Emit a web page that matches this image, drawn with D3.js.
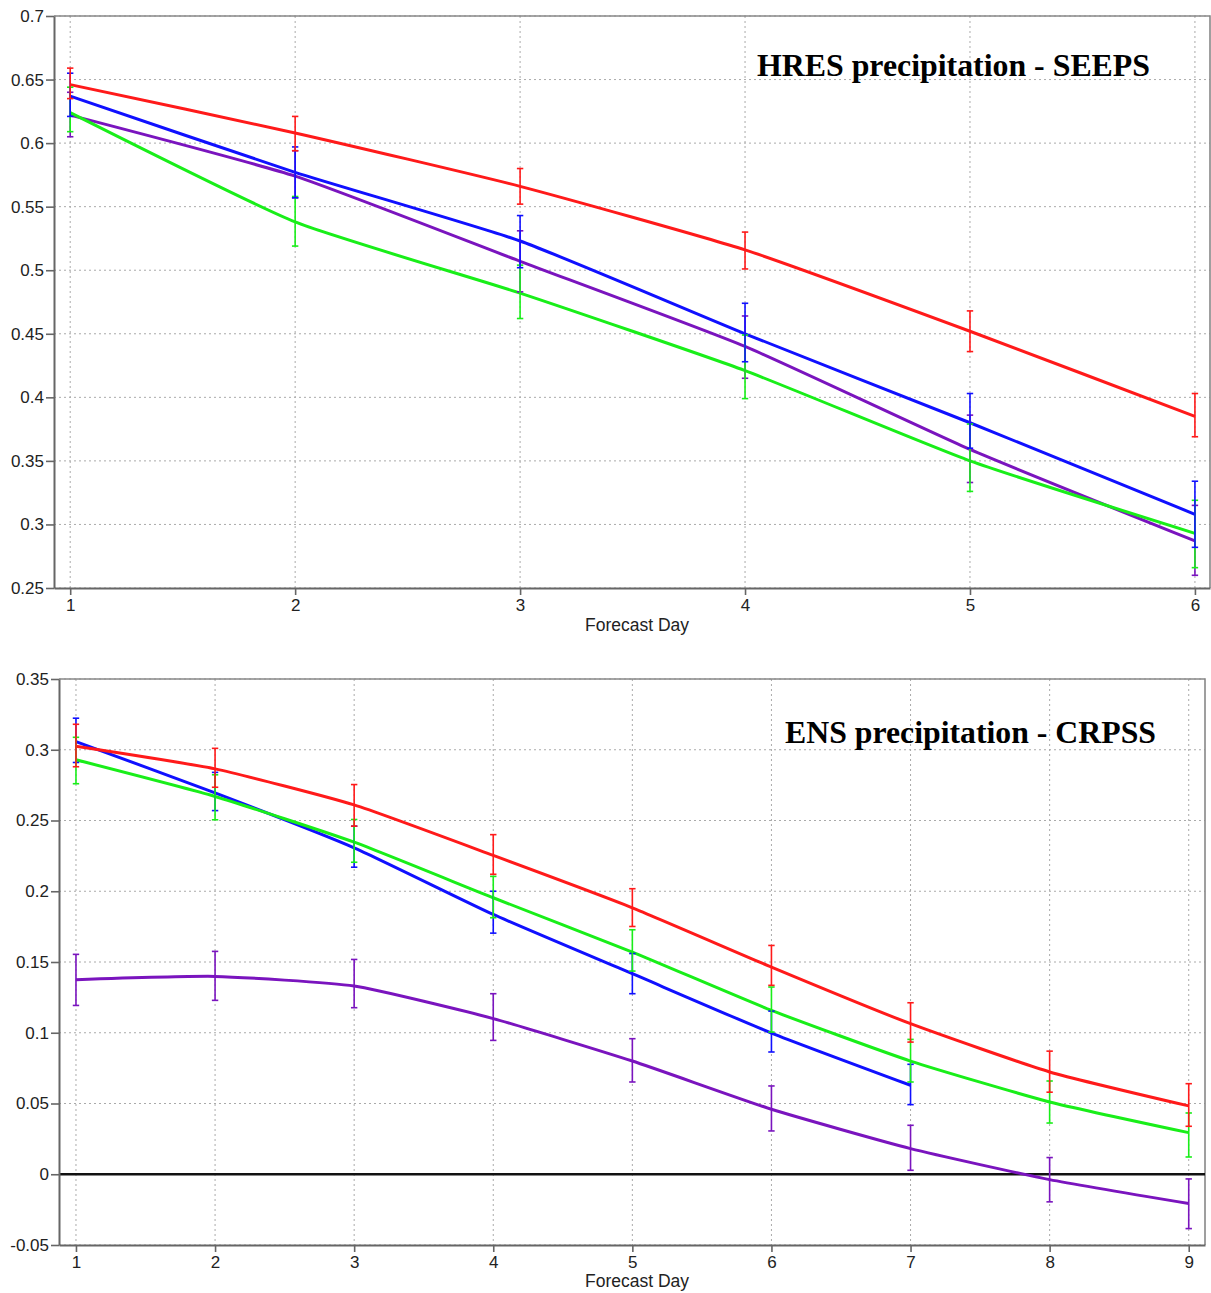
<!DOCTYPE html>
<html>
<head>
<meta charset="utf-8">
<script src="https://cdn.jsdelivr.net/npm/d3@7/dist/d3.min.js"></script>
<style>
  html, body { margin: 0; padding: 0; background: #fff; }
  svg { display: block; }
  .tick text { font-family: "Liberation Sans", Arial, sans-serif; font-size: 17px; fill: #222; }
</style>
</head>
<body>
<svg id="chart" width="1211" height="1293"></svg>
<script>
// ---- HRES precipitation, SEEPS by forecast day ----
const seepsDays = [1, 2, 3, 4, 5, 6];
const seepsTicks = [0.25, 0.3, 0.35, 0.4, 0.45, 0.5, 0.55, 0.6, 0.65, 0.7];

const seepsRed      = [0.646, 0.608, 0.566, 0.516, 0.452, 0.385];
const seepsRedHi    = [0.659, 0.621, 0.580, 0.530, 0.468, 0.403];
const seepsRedLo    = [0.635, 0.594, 0.552, 0.501, 0.436, 0.369];

const seepsBlue     = [0.637, 0.577, 0.523, 0.450, 0.380, 0.308];
const seepsBlueHi   = [0.655, 0.597, 0.543, 0.474, 0.403, 0.334];
const seepsBlueLo   = [0.621, 0.557, 0.502, 0.428, 0.360, 0.282];

const seepsPurple   = [0.622, 0.574, 0.507, 0.440, 0.359, 0.287];
const seepsPurpleHi = [0.640, 0.594, 0.531, 0.464, 0.386, 0.315];
const seepsPurpleLo = [0.605, 0.557, 0.483, 0.415, 0.333, 0.260];

const seepsGreen    = [0.624, 0.538, 0.482, 0.421, 0.350, 0.293];
const seepsGreenHi  = [0.644, 0.558, 0.504, 0.449, 0.379, 0.319];
const seepsGreenLo  = [0.609, 0.519, 0.462, 0.399, 0.326, 0.266];

// ---- ENS precipitation, CRPSS by forecast day ----
const crpssDays = [1, 2, 3, 4, 5, 6, 7, 8, 9];
const crpssTicks = [-0.05, 0, 0.05, 0.1, 0.15, 0.2, 0.25, 0.3, 0.35];

const crpssRed      = [0.3025, 0.2865, 0.261, 0.2253, 0.1883, 0.1464, 0.1064, 0.0723, 0.0483];
const crpssRedHi    = [0.318, 0.301, 0.2754, 0.240, 0.2018, 0.1617, 0.1212, 0.087, 0.064];
const crpssRedLo    = [0.288, 0.2735, 0.246, 0.212, 0.1751, 0.1335, 0.0934, 0.058, 0.0339];

const crpssBlue     = [0.3058, 0.2695, 0.2307, 0.1836, 0.1417, 0.0998, 0.0629];
const crpssBlueHi   = [0.3223, 0.284, 0.246, 0.200, 0.156, 0.1153, 0.0777];
const crpssBlueLo   = [0.291, 0.257, 0.217, 0.1704, 0.1276, 0.0864, 0.0492];

const crpssGreen    = [0.2929, 0.267, 0.2347, 0.1954, 0.157, 0.1158, 0.080, 0.0511, 0.0294];
const crpssGreenHi  = [0.3088, 0.2823, 0.2507, 0.2105, 0.1728, 0.1323, 0.0953, 0.0659, 0.0433];
const crpssGreenLo  = [0.276, 0.2505, 0.2205, 0.1813, 0.1436, 0.1005, 0.0652, 0.0362, 0.0122];

const crpssPurple   = [0.1375, 0.1398, 0.133, 0.110, 0.080, 0.0459, 0.0181, -0.0038, -0.0207];
const crpssPurpleHi = [0.1554, 0.1575, 0.1518, 0.1276, 0.0958, 0.0624, 0.0346, 0.0118, -0.0033];
const crpssPurpleLo = [0.1193, 0.1229, 0.1177, 0.0946, 0.0652, 0.0306, 0.0028, -0.0195, -0.0384];

const COLORS = { red: "#ff1a1a", blue: "#1010ff", green: "#19ee19", purple: "#7a14be" };

const svg = d3.select("#chart");

function series(color, days, val, hi, lo) {
  return { color, pts: val.map((v, i) => ({ d: days[i], v, hi: hi[i], lo: lo[i] })) };
}

function drawPanel(cfg) {
  const g = svg.append("g");
  const x = d3.scaleLinear().domain(cfg.xDomain).range([cfg.left, cfg.right]);
  const y = d3.scaleLinear().domain(cfg.yDomain).range([cfg.bottom, cfg.top]);

  // dotted grid
  g.append("g").selectAll("line.h").data(cfg.yTicks).join("line")
    .attr("x1", cfg.left).attr("x2", cfg.right)
    .attr("y1", d => y(d)).attr("y2", d => y(d))
    .attr("stroke", "#aaa").attr("stroke-width", 1).attr("stroke-dasharray", "2,3");
  g.append("g").selectAll("line.v").data(cfg.days).join("line")
    .attr("x1", d => x(d)).attr("x2", d => x(d))
    .attr("y1", cfg.top).attr("y2", cfg.bottom)
    .attr("stroke", "#aaa").attr("stroke-width", 1).attr("stroke-dasharray", "2,3");

  // frame top/right
  g.append("path")
    .attr("d", `M${cfg.left},${cfg.top}H${cfg.right}V${cfg.bottom}`)
    .attr("fill", "none").attr("stroke", "#888").attr("stroke-width", 1.6);

  if (cfg.zeroLine) {
    g.append("line")
      .attr("x1", cfg.left).attr("x2", cfg.right)
      .attr("y1", y(0)).attr("y2", y(0))
      .attr("stroke", "#111").attr("stroke-width", 2.5);
  }

  // axes
  const fmt = v => String(+v.toFixed(2));
  const ax = g.append("g").attr("transform", `translate(${cfg.left},0)`)
    .call(d3.axisLeft(y).tickValues(cfg.yTicks).tickFormat(fmt).tickSize(8).tickSizeOuter(0).tickPadding(2));
  const bx = g.append("g").attr("transform", `translate(0,${cfg.bottom})`)
    .call(d3.axisBottom(x).tickValues(cfg.days).tickFormat(d3.format("d")).tickSize(7).tickSizeOuter(0).tickPadding(4));
  [ax, bx].forEach(a => {
    a.select(".domain").attr("stroke", "#666").attr("stroke-width", 2);
    a.selectAll(".tick line").attr("stroke", "#666").attr("stroke-width", 1.6);
  });

  // x-axis title
  g.append("text")
    .attr("x", (cfg.left + cfg.right) / 2 + 5).attr("y", cfg.bottom + cfg.xTitleOffset)
    .attr("text-anchor", "middle")
    .attr("font-family", "Liberation Sans, Arial, sans-serif").attr("font-size", 17.5).attr("fill", "#222")
    .text("Forecast Day");

  // lines, lightly smoothed through the daily points
  const line = d3.line().x(p => x(p.d)).y(p => y(p.v)).curve(d3.curveCardinal.tension(0.5));
  cfg.series.forEach(s => {
    g.append("path").datum(s.pts).attr("d", line)
      .attr("fill", "none").attr("stroke", COLORS[s.color]).attr("stroke-width", 3)
      .attr("stroke-linejoin", "round");
  });

  // error bars
  const cap = 3.2;
  cfg.series.forEach(s => {
    const eb = g.append("g").attr("stroke", COLORS[s.color]).attr("stroke-width", 1.6);
    eb.selectAll("line.bar").data(s.pts).join("line")
      .attr("x1", p => x(p.d)).attr("x2", p => x(p.d))
      .attr("y1", p => y(p.hi)).attr("y2", p => y(p.lo));
    eb.selectAll("line.capHi").data(s.pts).join("line")
      .attr("x1", p => x(p.d) - cap).attr("x2", p => x(p.d) + cap)
      .attr("y1", p => y(p.hi)).attr("y2", p => y(p.hi));
    eb.selectAll("line.capLo").data(s.pts).join("line")
      .attr("x1", p => x(p.d) - cap).attr("x2", p => x(p.d) + cap)
      .attr("y1", p => y(p.lo)).attr("y2", p => y(p.lo));
  });

  // panel title
  g.append("text")
    .attr("x", cfg.titleX).attr("y", cfg.titleY)
    .attr("font-family", "Liberation Serif, Cambria, serif").attr("font-weight", "bold")
    .attr("font-size", 31).attr("fill", "#000")
    .attr("textLength", cfg.titleWidth).attr("lengthAdjust", "spacingAndGlyphs")
    .text(cfg.title);
}

drawPanel({
  left: 54, right: 1210, top: 16, bottom: 588,
  xDomain: [0.928, 6.067], yDomain: [0.25, 0.7],
  days: seepsDays, yTicks: seepsTicks, xTitleOffset: 43,
  series: [
    series("purple", seepsDays, seepsPurple, seepsPurpleHi, seepsPurpleLo),
    series("green", seepsDays, seepsGreen, seepsGreenHi, seepsGreenLo),
    series("blue", seepsDays, seepsBlue, seepsBlueHi, seepsBlueLo),
    series("red", seepsDays, seepsRed, seepsRedHi, seepsRedLo)
  ],
  title: "HRES precipitation - SEEPS", titleX: 757, titleY: 76, titleWidth: 393
});

drawPanel({
  left: 59, right: 1205, top: 679, bottom: 1245,
  xDomain: [0.878, 9.117], yDomain: [-0.05, 0.35],
  days: crpssDays, yTicks: crpssTicks, xTitleOffset: 42, zeroLine: true,
  series: [
    series("purple", crpssDays, crpssPurple, crpssPurpleHi, crpssPurpleLo),
    series("blue", crpssDays, crpssBlue, crpssBlueHi, crpssBlueLo),
    series("green", crpssDays, crpssGreen, crpssGreenHi, crpssGreenLo),
    series("red", crpssDays, crpssRed, crpssRedHi, crpssRedLo)
  ],
  title: "ENS precipitation - CRPSS", titleX: 785, titleY: 743, titleWidth: 371
});
</script>
</body>
</html>
